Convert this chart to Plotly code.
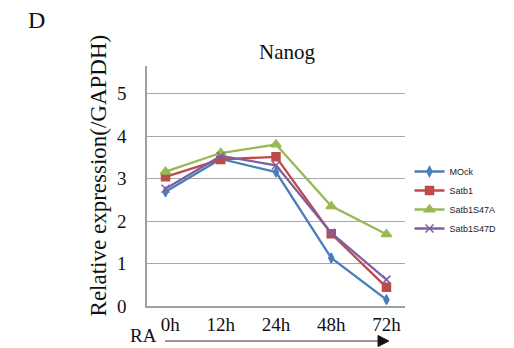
import plotly.graph_objects as go

categories = ["0h", "12h", "24h", "48h", "72h"]
tick_labels = ["\u00a0\u00a00h", "12h", "24h", "48h", "72h"]
mock = [2.69, 3.46, 3.15, 1.13, 0.15]
satb1 = [3.04, 3.45, 3.51, 1.70, 0.44]
satb1_s47a = [3.16, 3.60, 3.80, 2.35, 1.69]
satb1_s47d = [2.76, 3.53, 3.31, 1.72, 0.62]
y_ticks = [0, 1, 2, 3, 4, 5]

series = [
    ("MOck", mock, "#4a7ebb", "diamond-tall", 7),
    ("Satb1", satb1, "#be4b48", "square", 8),
    ("Satb1S47A", satb1_s47a, "#98b954", "triangle-up", 9),
    ("Satb1S47D", satb1_s47d, "#7d60a0", "x-thin-open", 8),
]

serif = "Liberation Serif, Times New Roman, serif"

fig = go.Figure()
for name, vals, col, sym, sz in series:
    fig.add_trace(go.Scatter(
        x=categories, y=vals, name=name, mode="lines+markers",
        line=dict(color=col, width=2.3),
        marker=dict(symbol=sym, size=sz, color=col, line=dict(color=col, width=1.5)),
    ))

L, R, T, B = 147, 80, 66, 42
pw, ph = 514 - L - R, 348 - T - B

fig.update_layout(
    width=514, height=348,
    margin=dict(l=L, r=R, t=T, b=B),
    paper_bgcolor="white", plot_bgcolor="white",
    showlegend=True,
    legend=dict(x=(439 - L) / pw, y=(306 - 200) / ph, xanchor="left", yanchor="middle",
                font=dict(family="Liberation Sans Narrow, Liberation Sans, Arial, sans-serif", size=9, color="#222"),
                itemwidth=30, bgcolor="rgba(0,0,0,0)", tracegroupgap=0),
    title=dict(text="Nanog", x=287 / 514, xanchor="center", y=1 - 52 / 348, yanchor="middle",
               font=dict(family=serif, size=21, color="#111")),
    font=dict(family=serif, color="#111"),
)

fig.update_xaxes(
    type="category", tickvals=categories, ticktext=tick_labels,
    showgrid=False, showline=True, linecolor="#a0a0a0", linewidth=1.5,
    ticks="", tickfont=dict(family=serif, size=19, color="#111"), ticklabelstandoff=0,
)
fig.update_yaxes(
    range=[0, ph / 42.5], tickvals=y_ticks, showgrid=True, gridcolor="#a8a8a8", gridwidth=1.3,
    showline=True, linecolor="#a0a0a0", linewidth=1.5, zeroline=False, ticks="",
    tickfont=dict(family=serif, size=19, color="#111"), ticklabelstandoff=15,
)

def px(xp):
    return (xp - L) / pw

def py(yp):
    return (348 - B - yp) / ph

fig.add_annotation(text="Relative expression(/GAPDH)", xref="paper", yref="paper",
                   x=px(93), y=py(175), textangle=-90, showarrow=False,
                   xanchor="center", yanchor="middle",
                   font=dict(family=serif, size=23, color="#111"))
fig.add_annotation(text="D", xref="paper", yref="paper",
                   x=px(24), y=py(20), showarrow=False,
                   xanchor="center", yanchor="middle",
                   font=dict(family=serif, size=24, color="#111"))
fig.add_annotation(text="RA", xref="paper", yref="paper",
                   x=px(143), y=py(347.5), showarrow=False,
                   xanchor="center", yanchor="bottom",
                   font=dict(family=serif, size=19, color="#111"))

# RA arrow (decoration)
fig.add_shape(type="line", xref="paper", yref="paper",
              x0=px(167), y0=py(341), x1=px(406), y1=py(341),
              line=dict(color="#333", width=1.2))
fig.add_shape(type="path", xref="paper", yref="paper",
              path=f"M {px(404)} {py(335.5)} L {px(416)} {py(341)} L {px(404)} {py(346.5)} Z",
              fillcolor="#111", line=dict(color="#111", width=1))

fig.write_html("out.html", config={"displayModeBar": False},
               post_script="document.body.style.margin='0';")
